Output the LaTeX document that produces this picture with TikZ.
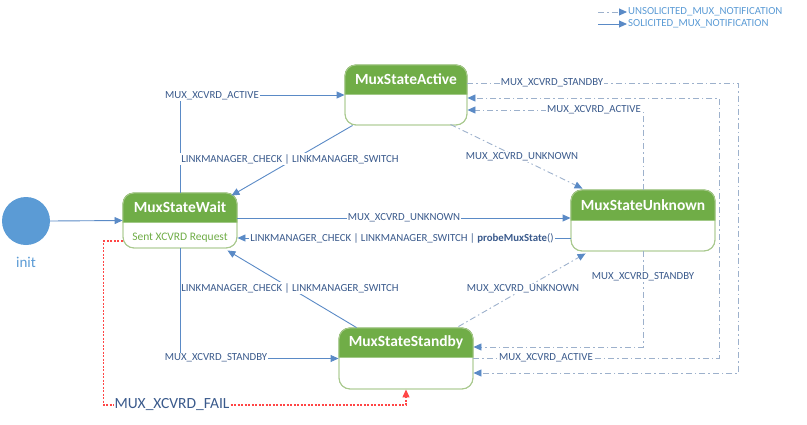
\documentclass[tikz,border=0pt]{standalone}
\usepackage{fontspec}
\setmainfont{Carlito}
\usetikzlibrary{arrows.meta,calc}
\definecolor{lineblue}{HTML}{5A8AC6}
\definecolor{dashblue}{HTML}{9DB1CC}
\definecolor{txtblue}{HTML}{3A5A8C}
\definecolor{legblue}{HTML}{5B9BD5}
\definecolor{hdrgreen}{HTML}{70AD47}
\definecolor{bordgreen}{HTML}{A9C98E}
\definecolor{failred}{RGB}{255,70,70}
\tikzset{
  tip/.style={-{Triangle[length=8,width=7,color=lineblue]}},
  sol/.style={draw=lineblue,line width=0.9,tip},
  unsol/.style={draw=dashblue,line width=0.9,dash pattern=on 6 off 3 on 1.5 off 3,tip},
  lbl/.style={fill=white,inner sep=1,text=txtblue,font=\fontsize{10.8}{12}\selectfont},
  statebox/.style={draw=bordgreen,fill=white,line width=0.9,rounded corners=11,inner sep=0},
  ttl/.style={text=white,font=\fontsize{15.5}{17}\selectfont\bfseries},
  failline/.style={draw=failred,line width=1.1,dash pattern=on 2 off 1.5},
}
\newcommand\mkstate[6]{%
  % #1 name, #2 center, #3 width, #4 height, #5 header height, #6 title
  \node[statebox,minimum width=#3,minimum height=#4] (#1) at (#2) {};
  \fill[hdrgreen] ($(#1.north west)+(0,#5)$) [rounded corners=11] -- (#1.north west) -- (#1.north east) [sharp corners] -- ($(#1.north east)+(0,#5)$) -- cycle;
  \node[draw=bordgreen,line width=0.9,rounded corners=11,minimum width=#3,minimum height=#4,inner sep=0] at (#2) {};
  \node[ttl] (#1t) at ($(#1.north)+(0,#5/2)$) {#6};
}
\begin{document}
\begin{tikzpicture}[x=1pt,y=-1pt]
\useasboundingbox (0,0) rectangle (807,424);

% states
\mkstate{active}{406,95}{122}{60}{30}{MuxStateActive}
\mkstate{wait}{180,220.5}{114}{55}{30}{MuxStateWait}
\mkstate{unknown}{643,220.5}{144}{61}{31}{MuxStateUnknown}
\mkstate{standby}{406,358.5}{134}{61}{30}{MuxStateStandby}
\node[text=hdrgreen,font=\fontsize{11.5}{13}\selectfont,inner sep=0] (waitsub) at (180,238) {Sent XCVRD Request};

% init
\node[circle,fill=legblue,minimum size=48,inner sep=0] (init) at (26,221) {};
\node[text=legblue,font=\fontsize{15}{17}\selectfont,inner sep=0] (initl) at (26,262) {init};
\draw[sol] (init.east) -- (wait.west);

% solicited
\draw[sol] (wait.north) |- (active.west);
\node[lbl] (l1) at (212,96) {MUX\_XCVRD\_ACTIVE};

\draw[sol] ($(active.south west)+(8,0)$) -- ($(wait.north east)+(-6,3)$);
\node[lbl] (l2) at (290,159) {LINKMANAGER\_CHECK | LINKMANAGER\_SWITCH};

\draw[sol] ($(wait.east)+(0,-2.5)$) coordinate (w1) -- (w1 -| unknown.west);
\node[lbl] (l3) at (404,218) {MUX\_XCVRD\_UNKNOWN};

\draw[sol] ($(unknown.west)+(0,17.5)$) coordinate (u1) -- (u1 -| wait.east);
\node[lbl] (l4) at (402,238) {LINKMANAGER\_CHECK | LINKMANAGER\_SWITCH | \textbf{probeMuxState}()};

\draw[sol] ($(standby.north west)+(18,0)$) -- ($(wait.south east)+(-10,2)$);
\node[lbl] (l5) at (290,288) {LINKMANAGER\_CHECK | LINKMANAGER\_SWITCH};

\draw[sol] (wait.south) |- (standby.west);
\node[lbl] (l6) at (216,358) {MUX\_XCVRD\_STANDBY};

% fail
\node[text=txtblue,font=\fontsize{15.5}{17}\selectfont,inner sep=1,fill=white] (failt) at (172,405) {MUX\_XCVRD\_FAIL};
\draw[failline] ($(wait.west)+(0,20.5)$) coordinate (r1) -- ++(-19,0) |- (failt.west);
\draw[failline,-{Triangle[length=8,width=7,color=failred]}] (failt.east) -| (standby.south);

% unsolicited
\draw[unsol] ($(active.south east)+(-17,-1)$) -- ($(unknown.north west)+(12,-1)$);
\node[lbl] (l7) at (522,157) {MUX\_XCVRD\_UNKNOWN};

\draw[unsol] ($(standby.north east)+(-15,-1)$) -- ($(unknown.south west)+(15,2)$);
\node[lbl] (l8) at (523,289) {MUX\_XCVRD\_UNKNOWN};

\draw[unsol] (unknown.north) |- ($(active.east)+(0,15)$);
\node[lbl] (l9) at (594,110) {MUX\_XCVRD\_ACTIVE};

\draw[unsol] (unknown.south) |- ($(standby.east)+(0,-11.5)$);
\node[lbl] (l10) at (643,277) {MUX\_XCVRD\_STANDBY};

\draw[unsol] ($(active.east)+(0,-12)$) -- ++(271,0) |- ($(standby.east)+(0,14.5)$);
\node[lbl] (l11) at (552,83) {MUX\_XCVRD\_STANDBY};

\draw[unsol] ($(standby.east)+(0,-0.5)$) -- ++(246,0) |- ($(active.east)+(0,3)$);
\node[lbl] (l12) at (546,358) {MUX\_XCVRD\_ACTIVE};

% legend
\coordinate (g1) at (598,12);
\coordinate (g2) at (627,12);
\coordinate (g3) at (598,24);
\coordinate (g4) at (627,24);
\draw[unsol] (g1) -- (g2);
\draw[sol] (g3) -- (g4);
\node[anchor=west,text=legblue,font=\fontsize{10.8}{12}\selectfont,inner sep=1] (leg1) at (g2) {UNSOLICITED\_MUX\_NOTIFICATION};
\node[anchor=west,text=legblue,font=\fontsize{10.8}{12}\selectfont,inner sep=1] (leg2) at (g4) {SOLICITED\_MUX\_NOTIFICATION};
\end{tikzpicture}
\end{document}
